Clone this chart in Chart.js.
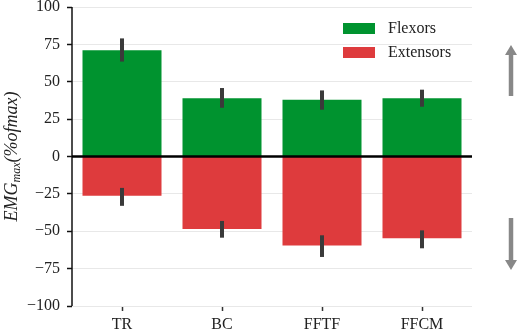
<!DOCTYPE html>
<html><head><meta charset="utf-8">
<script src="https://cdn.jsdelivr.net/npm/chart.js@4/dist/chart.umd.min.js"></script>
<style>html,body{margin:0;padding:0;background:#fff}#wrap{width:519px;height:332px}</style>
</head><body><div id="wrap"><canvas id="c" width="519" height="332"></canvas></div>
<script>
const categories = ["TR", "BC", "FFTF", "FFCM"];
const flexors = [71, 39, 38, 39];
const flexorsErrLow = [63.5, 32.6, 31.3, 33.3];
const flexorsErrHigh = [79, 45.8, 44.2, 44.7];
const extensors = [-26.3, -48.5, -59.6, -54.7];
const extensorsErrLow = [-33, -54.3, -67.2, -61.4];
const extensorsErrHigh = [-21, -43.1, -52.7, -49.4];
const yTicks = [-100, -75, -50, -25, 0, 25, 50, 75, 100];

const GREEN = "#00932f", RED = "#de3b3d";
const SERIF = "'Liberation Serif', 'DejaVu Serif', serif";

const errs = [[flexorsErrLow, flexorsErrHigh], [extensorsErrLow, extensorsErrHigh]];

const extras = {
  id: "extras",
  afterDatasetsDraw(chart) {
    const ctx = chart.ctx, x = chart.scales.x, y = chart.scales.y, a = chart.chartArea;
    ctx.save();
    // left spine
    ctx.strokeStyle = "#111"; ctx.lineWidth = 1.5;
    ctx.beginPath(); ctx.moveTo(a.left, y.getPixelForValue(100)); ctx.lineTo(a.left, y.getPixelForValue(-100)); ctx.stroke();
    // zero line
    const y0 = y.getPixelForValue(0);
    ctx.strokeStyle = "#000"; ctx.lineWidth = 2.5;
    ctx.beginPath(); ctx.moveTo(a.left, y0); ctx.lineTo(a.right, y0); ctx.stroke();
    // error bars
    ctx.strokeStyle = "#3a3a3a"; ctx.lineWidth = 4;
    errs.forEach(([lo, hi]) => {
      categories.forEach((c, i) => {
        const px = x.getPixelForValue(i);
        ctx.beginPath();
        ctx.moveTo(px, y.getPixelForValue(lo[i]));
        ctx.lineTo(px, y.getPixelForValue(hi[i]));
        ctx.stroke();
      });
    });
    // legend
    ctx.font = "16px " + SERIF; ctx.textBaseline = "middle";
    chart.data.datasets.forEach((ds, k) => {
      const top = 23 + k * 24;
      ctx.fillStyle = ds.backgroundColor;
      ctx.fillRect(343, top, 32, 11);
      ctx.fillStyle = "#222";
      ctx.fillText(ds.label, 388, top + 6);
    });
    // arrows
    ctx.strokeStyle = "#888"; ctx.fillStyle = "#888"; ctx.lineWidth = 4.5;
    const ax = 511;
    ctx.beginPath(); ctx.moveTo(ax, 96); ctx.lineTo(ax, 52); ctx.stroke();
    ctx.beginPath(); ctx.moveTo(ax - 6, 55); ctx.lineTo(ax, 45); ctx.lineTo(ax + 6, 55); ctx.closePath(); ctx.fill();
    ctx.beginPath(); ctx.moveTo(ax, 218); ctx.lineTo(ax, 262); ctx.stroke();
    ctx.beginPath(); ctx.moveTo(ax - 6, 260); ctx.lineTo(ax, 270); ctx.lineTo(ax + 6, 260); ctx.closePath(); ctx.fill();
    // y axis label
    ctx.translate(12, (a.top + a.bottom) / 2);
    ctx.rotate(-Math.PI / 2);
    ctx.fillStyle = "#222"; ctx.textBaseline = "middle";
    const big = "italic 18px " + SERIF, small = "italic 12px " + SERIF;
    const parts = [["EMG", big, 0], ["max", small, 5], ["(%ofmax)", big, 0]];
    let total = 0;
    parts.forEach(p => { ctx.font = p[1]; total += ctx.measureText(p[0]).width; });
    let cx = -total / 2;
    ctx.textAlign = "left";
    parts.forEach(p => { ctx.font = p[1]; ctx.fillText(p[0], cx, p[2]); cx += ctx.measureText(p[0]).width; });
    ctx.restore();
  }
};

new Chart(document.getElementById("c"), {
  type: "bar",
  data: {
    labels: categories,
    datasets: [
      { label: "Flexors", data: flexors, backgroundColor: GREEN, barPercentage: 0.79, categoryPercentage: 1 },
      { label: "Extensors", data: extensors, backgroundColor: RED, barPercentage: 0.79, categoryPercentage: 1 }
    ]
  },
  options: {
    responsive: false, animation: false,
    layout: { padding: { top: 7, right: 47, left: 0, bottom: 0 } },
    plugins: { legend: { display: false }, tooltip: { enabled: false } },
    scales: {
      x: {
        stacked: true,
        border: { display: false },
        grid: { drawOnChartArea: false, tickLength: 5, tickColor: "#333", tickWidth: 1.5, offset: false },
        ticks: { font: { family: SERIF, size: 16 }, color: "#222", padding: 4 },
        afterFit(s) { s.height = 26; s.paddingLeft = 0; s.paddingRight = 0; }
      },
      y: {
        stacked: true, min: -100, max: 100,
        afterBuildTicks(s) { s.ticks = yTicks.map(v => ({ value: v })); },
        border: { display: false },
        grid: { color: "#e8e8e8", lineWidth: 1, tickLength: 5, tickColor: "#111", tickWidth: 1.5 },
        ticks: { font: { family: SERIF, size: 16 }, color: "#222", padding: 7,
          callback: v => String(v).replace("-", "\u2212") },
        afterFit(s) { s.width = 72; s.paddingTop = 0; s.paddingBottom = 0; }
      }
    }
  },
  plugins: [extras]
});
</script></body></html>
